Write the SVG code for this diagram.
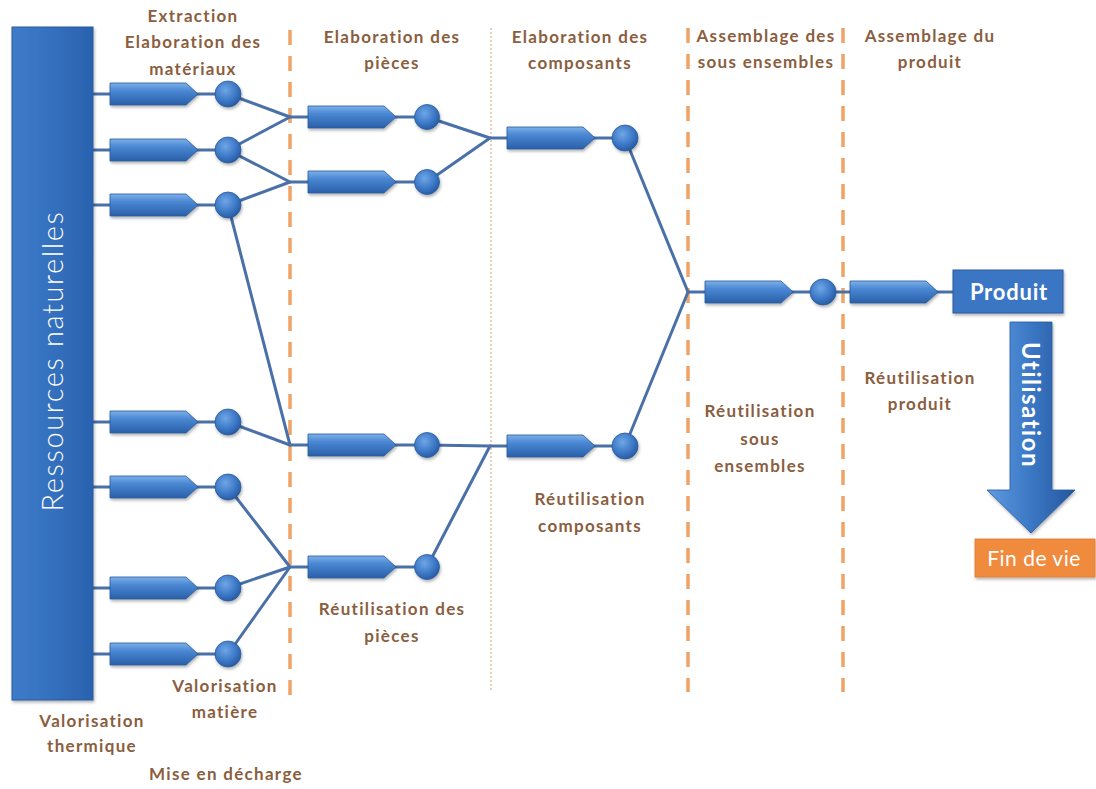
<svg xmlns="http://www.w3.org/2000/svg" width="1096" height="789" viewBox="0 0 1096 789">
<defs>
<linearGradient id="gPipe" x1="0" y1="0" x2="0" y2="1">
<stop offset="0" stop-color="#7FB0E8"/>
<stop offset="0.35" stop-color="#4A88D4"/>
<stop offset="1" stop-color="#2A5FA8"/>
</linearGradient>
<radialGradient id="gBall" cx="0.4" cy="0.35" r="0.7">
<stop offset="0" stop-color="#6FA6E6"/>
<stop offset="0.6" stop-color="#3C78C6"/>
<stop offset="1" stop-color="#24579E"/>
</radialGradient>
<linearGradient id="gRes" x1="0" y1="0" x2="1" y2="0">
<stop offset="0" stop-color="#3E7BC8"/>
<stop offset="0.5" stop-color="#3470BE"/>
<stop offset="1" stop-color="#2A62AE"/>
</linearGradient>
<linearGradient id="gArrow" x1="0" y1="0" x2="1" y2="0">
<stop offset="0" stop-color="#5E9BE0"/>
<stop offset="0.5" stop-color="#3B77C4"/>
<stop offset="1" stop-color="#24579E"/>
</linearGradient>
<filter id="sh" x="-10%" y="-10%" width="130%" height="140%">
<feDropShadow dx="1" dy="2" stdDeviation="1.5" flood-color="#000" flood-opacity="0.3"/>
</filter>
<path id="pipe" d="M0,-11 H76 L88,0 L76,11 H0 Z"/>
</defs>
<style>
.pipe{fill:url(#gPipe);stroke:#2A5A9C;stroke-width:0.8;filter:url(#sh)}
.ball{fill:url(#gBall);stroke:#2A5A9C;stroke-width:0.8;filter:url(#sh)}
.con{fill:none;stroke:#4A70A8;stroke-width:3;stroke-linejoin:round;stroke-linecap:round}
.dash{stroke:#EFA366;stroke-width:3.5;stroke-dasharray:15 11;fill:none}
.dot{stroke:#D9B28E;stroke-width:1.2;stroke-dasharray:2 2;fill:none}
.lbl{font-family:Lato,"Open Sans",sans-serif;font-weight:bold;font-size:17px;letter-spacing:1.3px;fill:#8A5E3E;text-anchor:middle}
.wt{font-family:Lato,"Open Sans",sans-serif;fill:#fff;text-anchor:middle}
</style>
<rect width="1096" height="789" fill="#fff"/>

<g id="separators">
<line class="dash" x1="290" y1="30" x2="290" y2="700"/>
<line class="dot" x1="491" y1="28" x2="491" y2="690"/>
<line class="dash" x1="688" y1="28" x2="688" y2="692"/>
<line class="dash" x1="843" y1="28" x2="843" y2="692"/>
</g>

<g id="connectors">
<polyline class="con" points="93,94 228,94 290,117 427,117 490,138 625,138 688,292 823,292 953,292"/>
<polyline class="con" points="93,150 228,150 290,117"/>
<polyline class="con" points="228,150 290,182 427,182 490,138"/>
<polyline class="con" points="93,205 228,205 290,182"/>
<polyline class="con" points="228,205 290,445"/>
<polyline class="con" points="93,422 228,422 290,445 427,445 490,446 625,446 688,292"/>
<polyline class="con" points="93,487 228,487 290,567 427,567 490,446"/>
<polyline class="con" points="93,588 228,588 290,567"/>
<polyline class="con" points="93,654 228,654 290,567"/>
</g>

<g id="ressources">
<rect x="12" y="27" width="81" height="673" fill="url(#gRes)" stroke="#2A5A9C" stroke-width="1" filter="url(#sh)"/>
<text class="wt" transform="translate(51,361) rotate(-90)" font-size="29" font-weight="300" letter-spacing="1.6" dominant-baseline="central">Ressources naturelles</text>
</g>

<g id="col1">
<use href="#pipe" class="pipe" x="110" y="94"/><circle class="ball" cx="228" cy="94" r="13"/>
<use href="#pipe" class="pipe" x="110" y="150"/><circle class="ball" cx="228" cy="150" r="13"/>
<use href="#pipe" class="pipe" x="110" y="205"/><circle class="ball" cx="228" cy="205" r="13"/>
<use href="#pipe" class="pipe" x="110" y="422"/><circle class="ball" cx="228" cy="422" r="13"/>
<use href="#pipe" class="pipe" x="110" y="487"/><circle class="ball" cx="228" cy="487" r="13"/>
<use href="#pipe" class="pipe" x="110" y="588"/><circle class="ball" cx="228" cy="588" r="13"/>
<use href="#pipe" class="pipe" x="110" y="654"/><circle class="ball" cx="228" cy="654" r="13"/>
</g>

<g id="col2">
<use href="#pipe" class="pipe" x="308" y="117"/><circle class="ball" cx="427" cy="117" r="12.5"/>
<use href="#pipe" class="pipe" x="308" y="182"/><circle class="ball" cx="427" cy="182" r="12.5"/>
<use href="#pipe" class="pipe" x="308" y="445"/><circle class="ball" cx="427" cy="445" r="12.5"/>
<use href="#pipe" class="pipe" x="308" y="567"/><circle class="ball" cx="427" cy="567" r="12.5"/>
</g>

<g id="col3">
<use href="#pipe" class="pipe" x="507" y="138"/><circle class="ball" cx="625" cy="138" r="13"/>
<use href="#pipe" class="pipe" x="507" y="446"/><circle class="ball" cx="625" cy="446" r="13"/>
</g>

<g id="col4">
<use href="#pipe" class="pipe" x="705" y="292"/><circle class="ball" cx="823" cy="292" r="13"/>
</g>

<g id="col5">
<use href="#pipe" class="pipe" x="850" y="292"/>
</g>

<g id="produit">
<rect x="953" y="270" width="110" height="43" fill="#3A76C4" stroke="#2A5A9C" stroke-width="1" filter="url(#sh)"/>
<text class="wt" x="1009" y="300" font-size="22" font-weight="bold" letter-spacing="0.8">Produit</text>
</g>

<g id="utilisation">
<path d="M1010,322 H1052 V490 H1075 L1031,533 L987,490 H1010 Z" fill="url(#gArrow)" stroke="#2A5A9C" stroke-width="0.8" filter="url(#sh)"/>
<text class="wt" transform="translate(1031,405) rotate(90)" font-size="24" font-weight="bold" letter-spacing="1.5" dominant-baseline="central">Utilisation</text>
</g>

<g id="findevie">
<rect x="975" y="539" width="120" height="38" fill="#F08A3C" stroke="#E07828" stroke-width="0.8" filter="url(#sh)"/>
<text class="wt" x="1034" y="566" font-size="21" letter-spacing="0.5">Fin de vie</text>
</g>

<g id="labels">
<text class="lbl" x="193" y="22">Extraction</text>
<text class="lbl" x="193" y="48">Elaboration des</text>
<text class="lbl" x="193" y="75">matériaux</text>
<text class="lbl" x="392" y="43">Elaboration des</text>
<text class="lbl" x="392" y="69">pièces</text>
<text class="lbl" x="580" y="43">Elaboration des</text>
<text class="lbl" x="580" y="69">composants</text>
<text class="lbl" x="766" y="42">Assemblage des</text>
<text class="lbl" x="766" y="68">sous ensembles</text>
<text class="lbl" x="930" y="42">Assemblage du</text>
<text class="lbl" x="930" y="68">produit</text>
<text class="lbl" x="392" y="615">Réutilisation des</text>
<text class="lbl" x="392" y="642">pièces</text>
<text class="lbl" x="590" y="505">Réutilisation</text>
<text class="lbl" x="590" y="532">composants</text>
<text class="lbl" x="760" y="417">Réutilisation</text>
<text class="lbl" x="760" y="445">sous</text>
<text class="lbl" x="760" y="472">ensembles</text>
<text class="lbl" x="920" y="384">Réutilisation</text>
<text class="lbl" x="920" y="410">produit</text>
<text class="lbl" x="225" y="692">Valorisation</text>
<text class="lbl" x="225" y="718">matière</text>
<text class="lbl" x="92" y="727">Valorisation</text>
<text class="lbl" x="92" y="752">thermique</text>
<text class="lbl" x="226" y="780" letter-spacing="2">Mise en décharge</text>
</g>
</svg>
